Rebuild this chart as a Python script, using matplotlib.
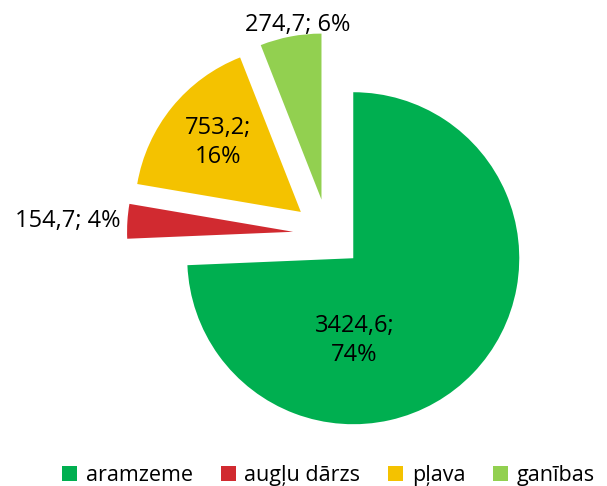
import matplotlib.pyplot as plt
from matplotlib.patches import Patch

plt.rcParams['font.family'] = ['Open Sans', 'DejaVu Sans']

# dati
categories = ['aramzeme', 'augļu dārzs', 'pļava', 'ganības']
values = [3424.6, 154.7, 753.2, 274.7]
percents = [74, 4, 16, 6]
labels = ['3424,6;\n74%', '154,7; 4%', '753,2;\n16%', '274,7; 6%']
colors = ['#00AF50', '#D12A30', '#F4C200', '#92D050']

# etiķetes nobīde no izbīdītā sektora centra (rādiusa vienībās)
label_offsets = [(0.006, -0.494), (-1.355, 0.066), (-0.50, 0.42), (-0.145, 1.054)]

fig = plt.figure(figsize=(6.07, 4.86), dpi=100)
ax = fig.add_axes([0, 0, 1, 1])

R = 166
# explode matplotlibā ir datu vienībās
wedges, _ = ax.pie(values, colors=colors, startangle=90, counterclock=False,
                   radius=R, center=(328, 252), explode=[35] * 4,
                   wedgeprops=dict(linewidth=0))
ax.set_xlim(0, 607)
ax.set_ylim(0, 486)
ax.set_aspect('equal')
ax.axis('off')

for w, lab, (dx, dy) in zip(wedges, labels, label_offsets):
    cx, cy = w.center
    ax.text(cx + dx * R, cy + dy * R, lab, ha='center', va='center',
            fontsize=17, color='black', linespacing=1.3)

handles = [Patch(facecolor=c, edgecolor='none') for c in colors]
fig.legend(handles, categories, loc='lower left', bbox_to_anchor=(0.07, -0.04),
           ncol=4, frameon=False, fontsize=15.5, handlelength=0.7, handleheight=0.7,
           handletextpad=0.4, columnspacing=1.3)

plt.savefig('out.png', dpi=100)
